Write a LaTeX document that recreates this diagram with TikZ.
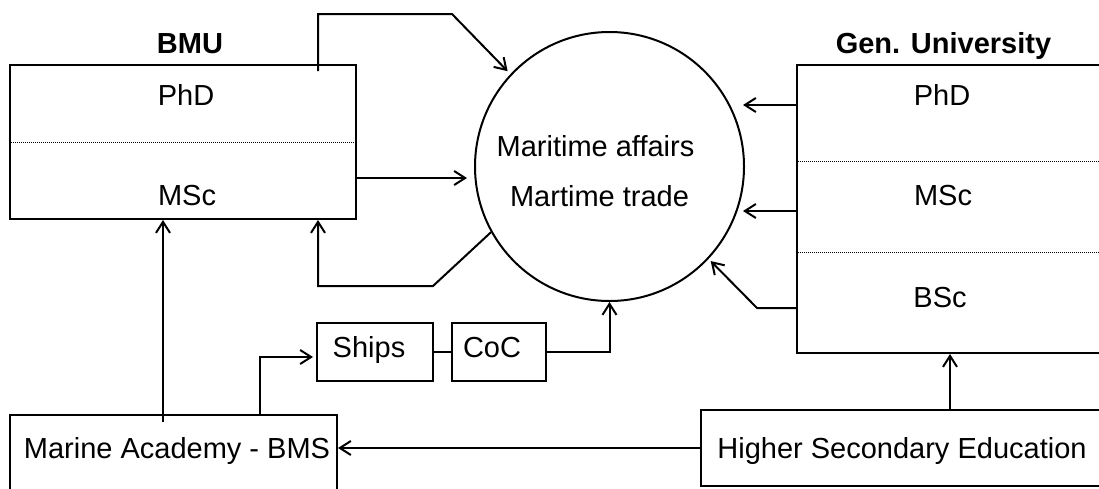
\documentclass[tikz,border=0pt]{standalone}
\usepackage{fontspec}
\setmainfont{Liberation Sans}
\usetikzlibrary{arrows.meta,shapes.geometric}

\begin{document}
\begin{tikzpicture}[x=1pt,y=-1pt,line width=2pt,
    font=\fontsize{29}{35}\selectfont,
    box/.style={draw,rectangle,inner sep=0pt},
    txt/.style={anchor=base,inner sep=0pt},
    sep/.style={line width=1pt,dash pattern=on 1pt off 1pt},
    ->/.style={-{Straight Barb[length=11pt,width=14pt]}}]
  \useasboundingbox (0,0) rectangle (1099,488);

  \node[box,minimum width=346pt,minimum height=154pt] (bmu) at (183,142) {};
  \node[box,minimum width=323pt,minimum height=288pt] (gu) at (958.5,209) {};
  \node[draw,circle,inner sep=0pt,minimum size=269pt] (hub) at (609.5,166.5) {};
  \node[box,minimum width=116pt,minimum height=58pt] (ships) at (375,352) {};
  \node[box,minimum width=94pt,minimum height=58pt] (coc) at (499,352) {};
  \node[box,minimum width=327pt,minimum height=80pt] (ma) at (173.5,455) {};
  \node[box,minimum width=419pt,minimum height=76pt] (hse) at (910.5,448) {};

  \draw[sep] ([yshift=-78pt]bmu.north west) -- ([yshift=-78pt]bmu.north east);
  \draw[sep] ([yshift=-97pt]gu.north west) -- ([yshift=-97pt]gu.north east);
  \draw[sep] ([yshift=-188pt]gu.north west) -- ([yshift=-188pt]gu.north east);

  \node[txt,font=\fontsize{29}{35}\selectfont\bfseries] (bmuT) at (190,53) {BMU};
  \node[txt,font=\fontsize{29}{35}\selectfont\bfseries] (guT) at (943.5,53) {Gen. University};
  \node[txt] (bmuPhd) at (186,105) {PhD};
  \node[txt] (bmuMsc) at (187,205) {MSc};
  \node[txt] (guPhd) at (942,105) {PhD};
  \node[txt] (guMsc) at (943,205) {MSc};
  \node[txt] (guBsc) at (940,307) {BSc};
  \node[txt] (hubA) at (595.5,156) {Maritime affairs};
  \node[txt] (hubB) at (599.5,206) {Martime trade};
  \node[txt] (shipsT) at (369,357) {Ships};
  \node[txt] (cocT) at (492,357) {CoC};
  \node[txt] (maT) at (177,458) {Marine Academy - BMS};
  \node[txt] (hseT) at (902,458) {Higher Secondary Education};

  \coordinate (maA) at ([xshift=-10.5pt,yshift=-8pt]ma.north);
  \coordinate (maB) at ([xshift=86pt]ma.north);
  \coordinate (hseA) at ([xshift=250pt]hse.north west);

  \draw[->,shorten >=4pt] ([xshift=-39pt,yshift=-7pt]bmu.north east) |- (452,14) -- (hub.137);
  \draw[->,shorten >=7pt] ([yshift=-36pt]bmu.east) -- ([yshift=-36pt]bmu.east -| hub.west);
  \draw[->] (hub.209) -- (433,286) -| ([xshift=-39pt]bmu.south east);
  \draw[->] ([yshift=-41pt]gu.north west) -- ++(-53,0);
  \draw[->] ([yshift=-147pt]gu.north west) -- ++(-53,0);
  \draw[->,shorten >=3pt] ([yshift=-244pt]gu.north west) -- ++(-39,0) -- (hub.317);
  \draw (ships.east) -- (coc.west);
  \draw[->] (coc.east) -| (hub.south);
  \draw[->] (maA) -- (maA |- bmu.south);
  \draw[->,shorten >=3pt] (maB) |- ([yshift=-5pt]ships.west);
  \draw[->] (hseA) -- (hseA |- gu.south);
  \draw[->] (hse.west) -- (hse.west -| ma.east);
\end{tikzpicture}
\end{document}
